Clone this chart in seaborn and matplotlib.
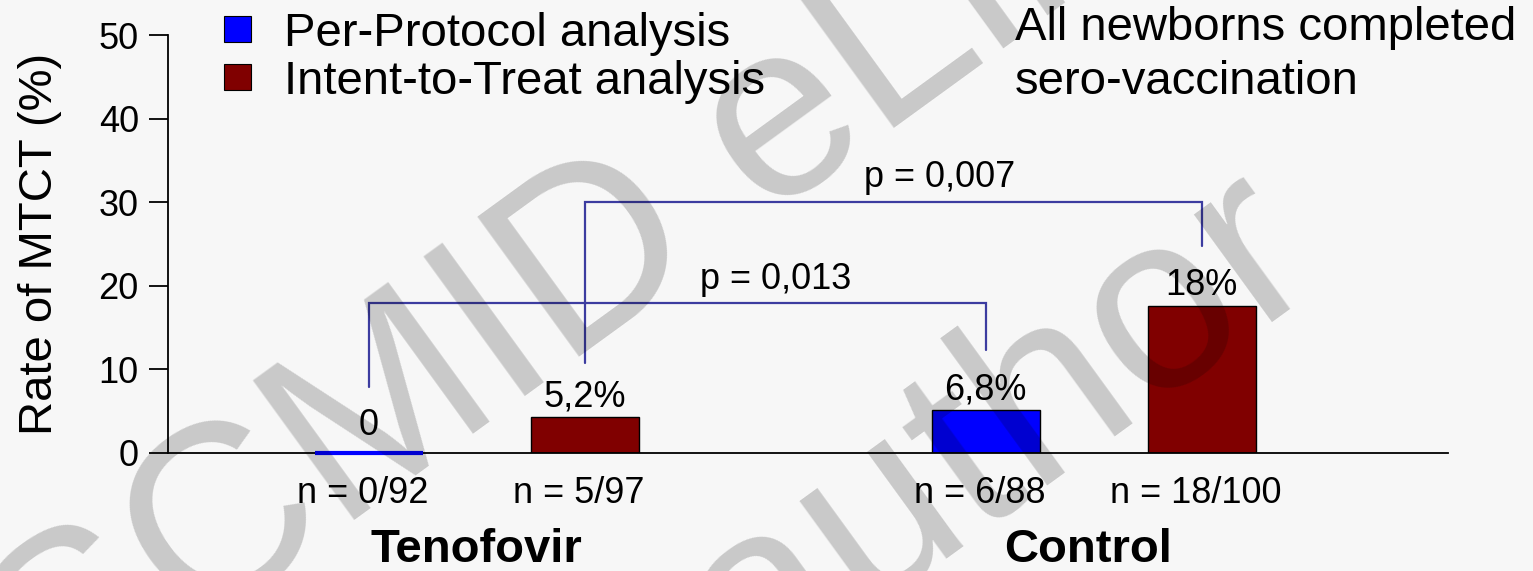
import numpy as np
import pandas as pd
import matplotlib
matplotlib.use("Agg")
import matplotlib.pyplot as plt
import seaborn as sns

# data
groups = ["Tenofovir", "Tenofovir", "Control", "Control"]
analyses = ["Per-Protocol analysis", "Intent-to-Treat analysis",
            "Per-Protocol analysis", "Intent-to-Treat analysis"]
rates = [0.0, 4.3, 5.1, 17.6]          # bar heights as drawn
rate_labels = ["0", "5,2%", "6,8%", "18%"]
n_labels = ["n = 0/92", "n = 5/97", "n = 6/88", "n = 18/100"]
group_order = ["Tenofovir", "Control"]
hue_order = ["Per-Protocol analysis", "Intent-to-Treat analysis"]
yticks = [0, 10, 20, 30, 40, 50]

# significance brackets: (left bar, right bar), top height, foot heights, label
bracket_pairs = [(0, 2), (1, 3)]
bracket_tops = [17.9, 30.0]
bracket_feet = [(7.9, 12.3), (10.8, 24.8)]
p_labels = ["p = 0,013", "p = 0,007"]
p_label_x = [0.485, 0.75]
p_label_y = [20.7, 32.9]

note = "All newborns completed\nsero-vaccination"

bg = "#f7f7f7"
colors = {"Per-Protocol analysis": "#0000ff", "Intent-to-Treat analysis": "#800000"}
bracket_color = "#3c3ca0"

sns.set_theme(style="white")
plt.rcParams["font.family"] = ["Liberation Sans", "DejaVu Sans"]
plt.rcParams["text.color"] = "black"
plt.rcParams["axes.labelcolor"] = "black"
plt.rcParams["ytick.color"] = "black"

df = pd.DataFrame({"group": groups, "analysis": analyses, "rate": rates})

fig = plt.figure(figsize=(15.33, 5.71), dpi=100, facecolor=bg)
ax = fig.add_axes([0.1096, 0.2067, 0.8350, 0.7320])
ax.set_facecolor(bg)

sns.barplot(data=df, x="group", y="rate", hue="analysis", order=group_order,
            hue_order=hue_order, palette=colors, saturation=1, width=0.7, gap=0.5,
            edgecolor="black", linewidth=1, errorbar=None, ax=ax)

# bar centres, per row of the data
centers = []
for i in range(len(rates)):
    h = hue_order.index(analyses[i])
    g = group_order.index(groups[i])
    bar = ax.containers[h][g]
    centers.append(bar.get_x() + bar.get_width() / 2)
    if rates[i] == 0:
        bar.set_edgecolor(colors[analyses[i]])
        bar.set_linewidth(3)
        bar.set_clip_on(False)
        bar.set_zorder(3)

ax.set_xlim(-0.5, 1.574)
ax.set_ylim(0, 50)
ax.set_yticks(yticks)
ax.set_xticks([])
ax.set_xlabel("")
ax.set_ylabel("Rate of MTCT (%)", fontsize=34, labelpad=26)
ax.tick_params(axis="y", direction="out", length=14, width=1.3, labelsize=26,
               left=True, pad=7)
sns.despine(ax=ax)
for s in ["left", "bottom"]:
    ax.spines[s].set_color("black")
    ax.spines[s].set_linewidth(1.3)

# value labels above bars
for i, lab in enumerate(rate_labels):
    off = 2.2 if rates[i] == 0 else 1.3
    ax.text(centers[i], rates[i] + off, lab, ha="center", va="baseline", fontsize=26)

# n labels and group names below the axis
xt = ax.get_xaxis_transform()
for i, lab in enumerate(n_labels):
    ax.text(centers[i] - 0.01, -0.096, lab, ha="center", va="center", fontsize=26,
            transform=xt)
for g, name in enumerate(group_order):
    ax.text(g - 0.01 * g, -0.232, name, ha="center", va="center", fontsize=34,
            fontweight="bold", transform=xt)

# brackets
for k, (a, b) in enumerate(bracket_pairs):
    xa, xb = centers[a], centers[b]
    fa, fb = bracket_feet[k]
    top = bracket_tops[k]
    ax.plot([xa, xa, xb, xb], [fa, top, top, fb], color=bracket_color, lw=1.6,
            solid_joinstyle="miter")
    ax.text(p_label_x[k], p_label_y[k], p_labels[k], ha="center", va="center", fontsize=26)

leg = ax.legend(loc="upper left", bbox_to_anchor=(0.146, 0.979),
                bbox_transform=fig.transFigure, frameon=False, fontsize=34,
                handlelength=0.57, handleheight=0.47, handletextpad=0.7,
                labelspacing=0.08, borderpad=0, borderaxespad=0)
for hnd in leg.legend_handles:
    hnd.set_edgecolor("black")
    hnd.set_linewidth(0.8)

fig.text(1015 / 1533, 1 - 6 / 571, note, ha="left", va="top", fontsize=34,
         linespacing=1.3)

# watermark
wm = dict(fontsize=180, color="black", alpha=0.19, rotation=36,
          rotation_mode="anchor", ha="left", va="baseline", zorder=10)
fig.text(-0.0509, -0.4606, "ESCMID eLibrary", **wm)
fig.text(0.1813, -0.830, "\u00a9 by author", **wm)

fig.savefig("out.png", dpi=100, facecolor=bg)
